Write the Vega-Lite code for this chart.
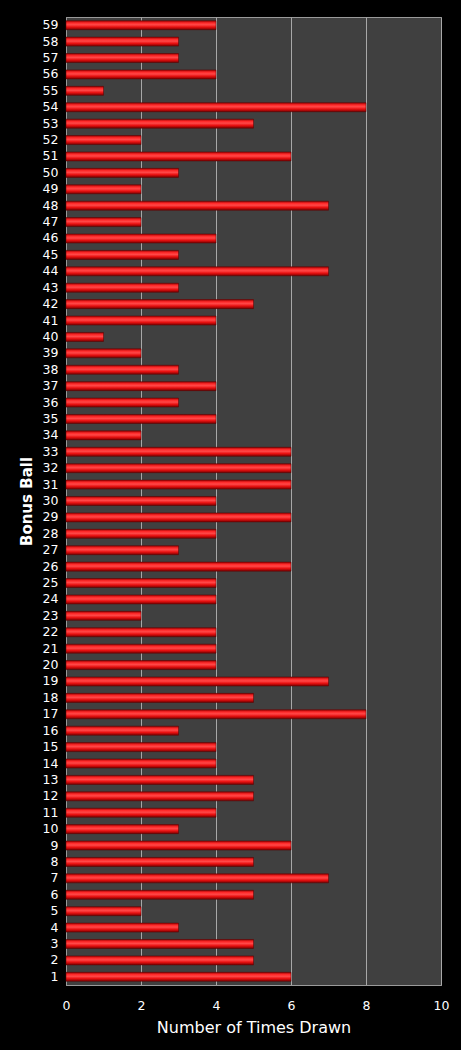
{
  "$schema": "https://vega.github.io/schema/vega-lite/v6.json",
  "autosize": {"type": "none"},
  "padding": {"left": 66, "top": 17, "right": 20, "bottom": 65},
  "width": 375,
  "height": 968,
  "background": "#000000",
  "config": {
    "view": {"fill": "#404040", "stroke": "#9a9a9a", "strokeWidth": 1},
    "font": "DejaVu Sans"
  },
  "data": {
    "values": [
      {"ball": 1, "count": 6}, {"ball": 2, "count": 5}, {"ball": 3, "count": 5},
      {"ball": 4, "count": 3}, {"ball": 5, "count": 2}, {"ball": 6, "count": 5},
      {"ball": 7, "count": 7}, {"ball": 8, "count": 5}, {"ball": 9, "count": 6},
      {"ball": 10, "count": 3}, {"ball": 11, "count": 4}, {"ball": 12, "count": 5},
      {"ball": 13, "count": 5}, {"ball": 14, "count": 4}, {"ball": 15, "count": 4},
      {"ball": 16, "count": 3}, {"ball": 17, "count": 8}, {"ball": 18, "count": 5},
      {"ball": 19, "count": 7}, {"ball": 20, "count": 4}, {"ball": 21, "count": 4},
      {"ball": 22, "count": 4}, {"ball": 23, "count": 2}, {"ball": 24, "count": 4},
      {"ball": 25, "count": 4}, {"ball": 26, "count": 6}, {"ball": 27, "count": 3},
      {"ball": 28, "count": 4}, {"ball": 29, "count": 6}, {"ball": 30, "count": 4},
      {"ball": 31, "count": 6}, {"ball": 32, "count": 6}, {"ball": 33, "count": 6},
      {"ball": 34, "count": 2}, {"ball": 35, "count": 4}, {"ball": 36, "count": 3},
      {"ball": 37, "count": 4}, {"ball": 38, "count": 3}, {"ball": 39, "count": 2},
      {"ball": 40, "count": 1}, {"ball": 41, "count": 4}, {"ball": 42, "count": 5},
      {"ball": 43, "count": 3}, {"ball": 44, "count": 7}, {"ball": 45, "count": 3},
      {"ball": 46, "count": 4}, {"ball": 47, "count": 2}, {"ball": 48, "count": 7},
      {"ball": 49, "count": 2}, {"ball": 50, "count": 3}, {"ball": 51, "count": 6},
      {"ball": 52, "count": 2}, {"ball": 53, "count": 5}, {"ball": 54, "count": 8},
      {"ball": 55, "count": 1}, {"ball": 56, "count": 4}, {"ball": 57, "count": 3},
      {"ball": 58, "count": 3}, {"ball": 59, "count": 4}
    ]
  },
  "mark": {
    "type": "bar",
    "color": {
      "gradient": "linear",
      "x1": 0, "y1": 0, "x2": 0, "y2": 1,
      "stops": [
        {"offset": 0, "color": "#a00000"},
        {"offset": 0.25, "color": "#ff2a2a"},
        {"offset": 0.45, "color": "#ff4848"},
        {"offset": 0.7, "color": "#e81010"},
        {"offset": 1, "color": "#7a0000"}
      ]
    },
    "stroke": "#5a0000",
    "strokeWidth": 0.5
  },
  "encoding": {
    "y": {
      "field": "ball",
      "type": "ordinal",
      "sort": "descending",
      "scale": {"paddingInner": 0.45, "paddingOuter": 0.225},
      "axis": {
        "title": "Bonus Ball",
        "titleColor": "#ffffff",
        "titleFont": "DejaVu Sans",
        "titleFontSize": 15,
        "titleFontWeight": "bold",
        "titlePadding": 8,
        "labelColor": "#ffffff",
        "labelFontSize": 12.5,
        "labelPadding": 8,
        "ticks": false,
        "domainColor": "#9a9a9a",
        "grid": false
      }
    },
    "x": {
      "field": "count",
      "type": "quantitative",
      "scale": {"domain": [0, 10], "nice": false},
      "axis": {
        "title": "Number of Times Drawn",
        "values": [0, 2, 4, 6, 8, 10],
        "titleColor": "#ffffff",
        "titleFont": "DejaVu Sans",
        "titleFontSize": 16,
        "titleFontWeight": "normal",
        "titlePadding": 8,
        "labelColor": "#ffffff",
        "labelFontSize": 12.5,
        "labelPadding": 14,
        "labelFlush": false,
        "ticks": false,
        "domainColor": "#9a9a9a",
        "grid": true,
        "gridColor": "#a8a8a8",
        "gridWidth": 1
      }
    }
  }
}
